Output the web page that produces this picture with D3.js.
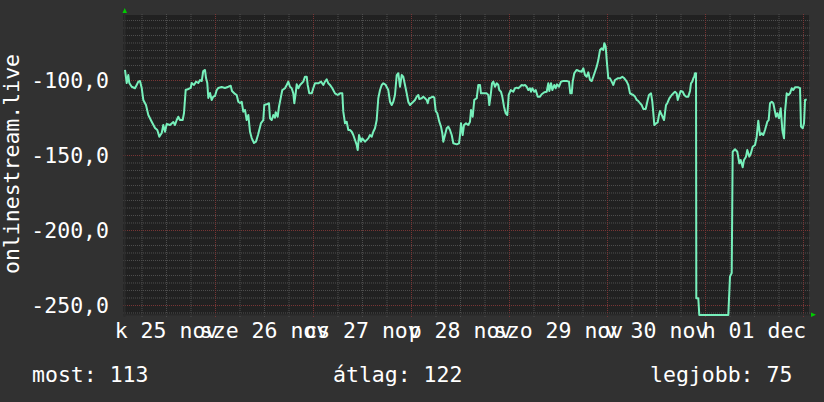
<!DOCTYPE html>
<html><head><meta charset="utf-8">
<script src="https://cdn.jsdelivr.net/npm/d3@7"></script>
<style>
html,body{margin:0;padding:0;background:#313131;}
svg{display:block;}
text{font-family:"DejaVu Sans Mono",monospace;fill:#ffffff;}
</style></head><body>
<svg id="c" width="824" height="402"></svg>
<script>
// hours since 2025-11-25 00:00
const hours = [
1.96,2.38,2.77,3.01,3.60,4.41,4.82,5.22,5.63,6.05,6.44,7.10,7.67,8.50,9.31,9.87,10.36,10.95,11.34,11.76,
12.17,12.98,13.79,14.20,14.62,15.01,15.43,16.09,16.41,16.82,17.46,18.05,18.29,18.86,19.35,19.91,20.33,20.74,21.13,21.55,
21.80,22.11,22.36,22.78,23.19,23.58,24.00,24.42,24.81,25.64,26.45,27.26,27.85,28.16,28.90,29.31,29.71,30.12,30.54,30.93,
31.35,31.76,32.16,32.57,32.99,33.55,34.04,34.53,35.27,35.83,36.07,36.66,37.22,37.47,37.89,38.28,38.69,38.87,39.36,39.67,
40.16,40.48,41.14,41.56,41.95,42.37,42.78,43.18,43.42,43.76,44.01,44.40,44.82,45.23,45.62,46.04,46.46,46.70,47.09,47.68,
48.07,48.49,49.30,49.96,50.52,50.94,51.36,51.75,52.16,52.73,53.39,54.05,54.61,55.18,55.42,55.84,56.25,56.65,57.06,57.48,
57.87,58.29,58.70,58.95,59.27,59.76,60.07,60.74,61.54,61.96,62.38,62.77,63.18,63.60,63.99,64.41,64.83,65.22,65.80,66.44,
66.86,67.27,67.67,68.08,68.50,68.89,69.31,69.72,70.11,70.53,70.95,71.34,71.76,72.17,72.56,72.98,73.40,73.79,74.03,74.62,
75.01,75.43,75.84,76.09,76.41,76.83,77.32,77.71,78.05,78.44,78.93,79.35,79.67,79.91,80.33,80.74,81.14,81.55,81.97,82.36,
83.19,83.76,84.00,84.25,84.66,84.98,85.47,86.03,86.45,86.70,87.11,87.50,88.09,88.48,88.90,89.14,89.71,90.54,90.93,91.18,
91.52,91.84,92.16,92.57,92.99,93.38,93.62,94.04,94.36,94.78,95.19,95.59,95.93,96.42,97.05,97.47,97.89,98.28,98.69,99.11,
99.50,99.92,100.33,100.73,101.14,101.39,101.71,102.20,102.54,103.03,103.59,104.01,104.65,105.23,105.63,105.87,106.29,106.61,107.10,107.44,
107.76,108.25,108.74,109.30,110.13,110.69,111.01,111.36,111.60,111.99,112.58,113.14,113.80,114.20,114.61,115.03,115.42,115.84,116.25,116.65,
117.06,117.48,117.87,118.29,118.71,119.10,119.34,119.68,119.93,120.32,120.74,121.15,121.55,121.96,122.62,123.18,123.75,124.24,124.83,125.22,
125.63,126.05,126.44,126.86,127.28,127.67,128.09,128.50,128.89,129.48,129.97,130.29,130.78,131.10,131.35,131.59,132.01,132.42,132.74,132.98,
133.40,133.96,134.45,134.77,135.26,135.85,136.24,136.66,137.07,137.32,137.71,138.05,138.54,138.93,139.35,139.91,140.33,140.57,140.89,141.14,
141.38,141.55,141.80,141.87,142.36,142.60,149.71,150.12,150.54,150.78,151.35,151.91,152.40,152.74,153.23,153.55,154.04,154.36,154.85,155.19,
155.68,156.25,156.66,157.05,157.47,157.89,158.28,158.69,159.26,159.60,159.92,160.34,160.73,160.98,161.39,161.71,162.13,162.54,162.94,163.35,
163.60,164.01,164.40,164.82,165.23,165.62,166.04,166.46,166.85,167.27,167.51,167.93,168.25,168.50,168.91
];
// position (rank), plotted as negative values
const ranks = [
93.3,102,96.7,102,104.5,105.5,103.3,101.1,100.7,105.3,113.3,116.7,123.3,127.8,132,133.3,137.8,135.3,130,134.5,
129.3,130,128,130,126.7,124.5,126.7,126.7,122,106.7,106,105.3,102,103.3,101.1,102,100,100.7,94,93.3,
98.7,102,112,108.7,113.3,111.1,110.7,106.7,105.3,104.7,105.3,104.5,103.8,107.3,109.3,110,114.5,115.3,114.5,121.1,
120,126.7,123.3,134.5,138.7,142,141.1,136.7,128.7,126.7,116.7,116.2,115.5,125.5,126.7,123.3,125.1,121.5,124.5,117.8,
111.1,106.7,105.5,103.3,101.1,104.5,105.5,108.9,115.5,108.9,102.9,105.5,103.3,102.2,101.1,97.8,97.8,103.3,108.9,108.9,
105.5,102.2,102.2,101.1,103.3,101.1,99.5,102.2,103.3,105.5,108.9,110,108.9,108.9,121.1,128.9,127.8,133.3,133.3,134.5,
136.7,140,143.3,146.7,136.7,141.1,138.9,141.1,138.9,136.7,137.8,134.5,132.2,126.7,112.2,106.7,103.3,102.2,103.3,106.7,
114.5,116.7,114.5,110,96.7,95.5,104.5,96.7,97.8,103.3,108.9,114.5,116.7,115.5,114.5,113.3,111.1,110,112.7,112.2,
111.1,112.2,113.3,115.5,112.2,111.8,111.1,111.8,120.7,122.2,127.8,131.1,135.5,141.1,136.7,132.2,131.1,133.3,136.7,142.2,
142.9,142.2,136.7,128.9,136.7,130,128.9,130,127.8,120,124.5,113.3,112.2,103.3,103.3,108.9,108.9,108.9,110,116.7,
110,102.2,101.1,104.5,102.2,103.3,106.7,107.8,111.1,117.8,122.2,123.3,110,106.7,107.8,105.5,105.1,105.5,104.5,103.3,
103.8,103.3,104.5,106.7,105.5,107.8,105.5,107.8,106.7,111.1,111.1,109.5,108.2,107.8,102.2,107.3,102.2,106.7,103.3,105.5,
102.9,104.5,101.1,100.7,100.7,101.1,108.9,108.9,101.1,95.5,93.3,94,94.5,92.2,96.7,97.8,94.9,100,100.7,97.8,
94.5,91.1,86.7,80,78.9,80,75.5,77.8,86.7,98.9,98.9,101.1,103.3,100,98.9,98.9,97.8,98.9,101.1,103.3,
108.9,109.5,110,111.1,113.3,114,115.5,116.7,119.3,119.3,113.3,110,108.9,114.5,122.2,130,128.9,128.2,123.3,120.7,
123.3,126.7,116.7,115.5,112.2,110,108.9,107.8,108.9,113.3,110,107.3,107.8,110,111.1,111.1,107.3,102.2,101.1,98.9,
97.8,95.5,95.5,245.5,245.5,256.6,256.6,231.1,228.7,147.8,146.2,147.8,155.5,153.3,158.2,153.3,151.1,146.7,151.1,149.3,
144.5,143.3,137.8,127.1,136.7,135.5,136.7,133.3,127.8,126.7,115.5,114.5,115.5,118.9,124.5,122.2,125.5,118.9,133.3,138.9,
121.1,108.9,110,108.9,105.5,106.7,104.9,104.9,104.9,105.5,131.1,132.2,128.9,113.3,112.9
];
const values = ranks.map(r => -r);

const dayLabels = ["k 25 nov","sze 26 nov","cs 27 nov","p 28 nov","szo 29 nov","v 30 nov","h 01 dec"];
const dayNoonHours = [12,36,60,84,108,132,156];
const yTickValues = [-250,-200,-150,-100];
const legendLabels = ["most","átlag","legjobb"];
const legendValues = [113,122,75];
const seriesName = "onlinestream.live";

const W = 824, H = 402;
const L = 123, R = 809, T = 15, B = 315;
const FS = "21.5px";
const svg = d3.select("#c");

const x = d3.scaleLinear().domain([1.47, 169.47]).range([L, R]);
const y = d3.scaleLinear().domain([-256.67, -56.67]).range([B, T]);

svg.append("rect").attr("x",0).attr("y",0).attr("width",W).attr("height",H).attr("fill","#313131");
svg.append("rect").attr("x",L).attr("y",T).attr("width",R-L).attr("height",B-T).attr("fill","#212121");

// grid
const minorX = d3.range(6, 169.47, 6).filter(h => h % 24 !== 0);
const majorX = d3.range(24, 169.47, 24);
const minorY = d3.range(-255, -56, 5).filter(v => v % 50 !== 0);
const majorY = yTickValues;

const grid = svg.append("g");
const gX1 = grid.append("g").attr("transform",`translate(0,${B+2})`)
  .call(d3.axisBottom(x).tickValues(minorX).tickSize(-(B-T+4)).tickFormat(""));
gX1.selectAll("line").attr("stroke","#4e4e4e").attr("stroke-dasharray","1,1");
const gY1 = grid.append("g").attr("transform",`translate(${L},0)`)
  .call(d3.axisLeft(y).tickValues(minorY).tickSize(-(R-L+2)).tickFormat(""));
gY1.selectAll("line").attr("stroke","#4e4e4e").attr("stroke-dasharray","1,1");
const gX2 = grid.append("g").attr("transform",`translate(0,${B+2})`)
  .call(d3.axisBottom(x).tickValues(majorX).tickSize(-(B-T+4)).tickFormat(""));
gX2.selectAll("line").attr("stroke","#7a3636").attr("stroke-dasharray","1,1");
const gY2 = grid.append("g").attr("transform",`translate(${L},0)`)
  .call(d3.axisLeft(y).tickValues(majorY).tickSize(-(R-L+2)).tickFormat(""));
gY2.selectAll("line").attr("stroke","#7a3636").attr("stroke-dasharray","1,1");
grid.selectAll(".domain").remove();

// axis lines
svg.append("line").attr("x1",L+1.5).attr("x2",L+1.5).attr("y1",B+2).attr("y2",T-2).attr("stroke","#2c2c2c").attr("stroke-width",2);
svg.append("line").attr("x1",L).attr("x2",R+2).attr("y1",B).attr("y2",B).attr("stroke","#2c2c2c").attr("stroke-width",1.5);

// series line
const data = hours.map((h,i) => ({h, v: values[i]}));
svg.append("path").datum(data)
  .attr("fill","none").attr("stroke","#77f0bb").attr("stroke-width",2).attr("stroke-linejoin","round")
  .attr("d", d3.line().x(d => x(d.h)).y(d => y(d.v)));

// arrows
svg.append("path").attr("d",`M${L-0.5},${T-2}L${L+4},${T-2}L${L+1.75},${T-7}Z`).attr("fill","#00cc00");
svg.append("path").attr("d",`M${R+2},${B-2.5}L${R+2},${B+2}L${R+7},${B-0.25}Z`).attr("fill","#00cc00");

// y axis labels
const fmt = d3.formatLocale({decimal:",",thousands:" ",grouping:[3],currency:["",""],minus:"-"}).format(".1f");
const yAx = svg.append("g").attr("transform",`translate(${L},0)`)
  .call(d3.axisLeft(y).tickValues(yTickValues).tickSize(0).tickPadding(14).tickFormat(fmt));
yAx.select(".domain").remove();
yAx.selectAll("text").attr("font-size",FS).attr("font-family","DejaVu Sans Mono").attr("fill","#fff").attr("dy","0.35em");

// x axis labels
const xAx = svg.append("g").attr("transform",`translate(0,${B})`)
  .call(d3.axisBottom(x).tickValues(dayNoonHours).tickSize(0).tickFormat((d,i) => dayLabels[i]));
xAx.select(".domain").remove();
xAx.selectAll("text").attr("font-size",FS).attr("font-family","DejaVu Sans Mono").attr("fill","#fff").attr("y",23).attr("dy",0);

// y title
svg.append("text").attr("transform","translate(19,164) rotate(-90)").attr("text-anchor","middle")
  .attr("font-size",FS).text(seriesName);

// legend
const legX = [32, 333, 650];
legendLabels.forEach((l,i) => {
  svg.append("text").attr("x",legX[i]).attr("y",382).attr("font-size",FS).text(`${l}: ${legendValues[i]}`);
});
</script>
</body></html>
